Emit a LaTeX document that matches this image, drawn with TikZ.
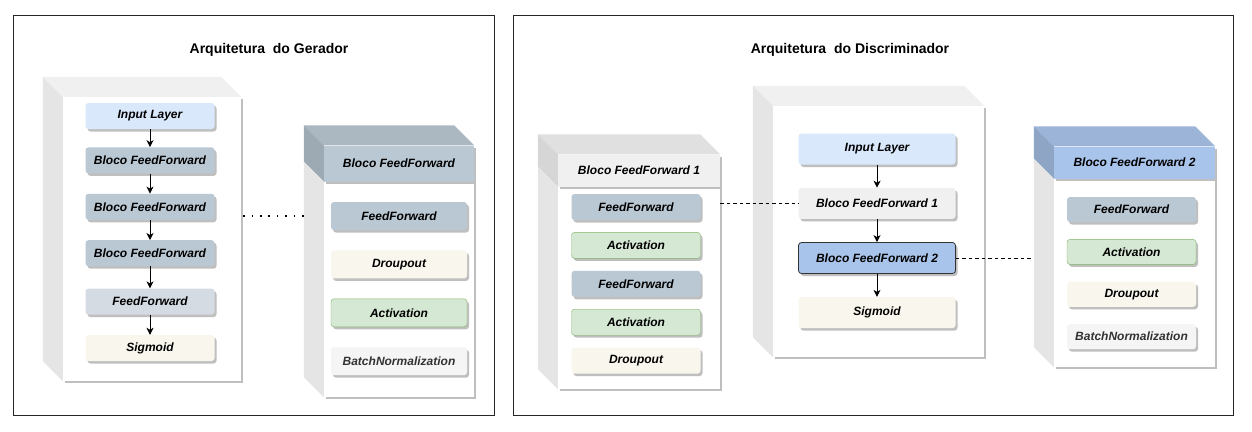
\documentclass[tikz,border=0pt]{standalone}
\usepackage{fontspec}
\setmainfont{Liberation Sans}
\usetikzlibrary{shapes, arrows, arrows.meta, positioning, shadows}

\definecolor{cinzaazul}{HTML}{BAC8D3}
\definecolor{cinzaff}{HTML}{D5DBE3}
\definecolor{azulclaro}{HTML}{DAE8FC}
\definecolor{azul}{HTML}{A9C4EB}
\definecolor{creme}{HTML}{F9F7ED}
\definecolor{verde}{HTML}{D5E8D4}
\definecolor{verdeborda}{HTML}{82B366}
\definecolor{cinzaclaro}{HTML}{F5F5F5}
\definecolor{textocinza}{HTML}{333333}

\begin{document}
\begin{tikzpicture}[x=1pt, y=1pt, node distance=20pt, >={Stealth[length=7pt, width=7pt, inset=2pt]}, auto]
        % 定义样式
        \tikzstyle{quadro} = [draw=black!85, line width=0.9pt, rectangle]
        \tikzstyle{titulo} = [font=\fontsize{14}{16}\selectfont\bfseries]
        \tikzstyle{frente} = [rectangle, inner sep=0pt, fill=white, drop shadow={shadow xshift=2pt, shadow yshift=-2pt, fill=black!25, opacity=1}]
        \tikzstyle{topo} = [fill=black!6]
        \tikzstyle{lado} = [fill=black!10]
        \tikzstyle{camada} = [rectangle, rounded corners=3pt, minimum height=26pt, minimum width=129pt, inner sep=0pt, font=\fontsize{12}{14}\selectfont\bfseries\itshape, drop shadow={shadow xshift=2pt, shadow yshift=-2.5pt, fill=black!25, opacity=1}]
        \tikzstyle{seta} = [->, line width=0.9pt]
        \tikzstyle{pontos} = [line width=1.6pt, dash pattern=on 1.6pt off 6.8pt]
        \tikzstyle{tracos} = [line width=0.7pt, dash pattern=on 3.5pt off 3pt]

        \useasboundingbox (0,0) rectangle (1252,-431);

        % 外框
        \node[quadro, minimum width=481pt, minimum height=400pt] (qGer) at (253.5,-215) {};
        \node[quadro, minimum width=720pt, minimum height=400pt] (qDis) at (873,-215) {};
        \node[titulo] (tGer) at (269,-50) {Arquitetura\ \ do Gerador};
        \node[titulo] (tDis) at (850,-50) {Arquitetura\ \ do Discriminador};

        % 生成器: 主体
        \node[frente, minimum width=178pt, minimum height=284pt] (gen) at (152,-239) {};
        \fill[topo] (gen.north west) -- ++(-20,20) -- ([xshift=-20pt, yshift=20pt]gen.north east) -- (gen.north east) -- cycle;
        \fill[lado] (gen.north west) -- ++(-20,20) -- ([xshift=-20pt, yshift=20pt]gen.south west) -- (gen.south west) -- cycle;

        \node[camada, fill=azulclaro] (gIn) at (150,-116) {Input Layer};
        \node[camada, fill=cinzaazul, below=18pt of gIn] (gB1) {Bloco FeedForward};
        \node[camada, fill=cinzaazul, below=of gB1] (gB2) {Bloco FeedForward};
        \node[camada, fill=cinzaazul, below=of gB2] (gB3) {Bloco FeedForward};
        \node[camada, fill=cinzaff, below=22pt of gB3] (gFF) {FeedForward};
        \node[camada, fill=creme, below=of gFF] (gSig) {Sigmoid};

        % 生成器: Bloco FeedForward
        \node[frente, minimum width=150pt, minimum height=215pt] (gBody) at (399,-289.5) {};
        \node[frente, fill=cinzaazul, minimum width=150pt, minimum height=36pt, font=\fontsize{12}{14}\selectfont\bfseries\itshape, above=0pt of gBody] (gHdr) {Bloco FeedForward};
        \fill[cinzaazul!92!black] (gHdr.north west) -- ++(-20,20) -- ([xshift=-20pt, yshift=20pt]gHdr.north east) -- (gHdr.north east) -- cycle;
        \fill[cinzaazul!85!black] (gHdr.north west) -- ++(-20,20) -- ([xshift=-20pt, yshift=20pt]gHdr.south west) -- (gHdr.south west) -- cycle;
        \fill[lado] (gBody.north west) -- ++(-20,20) -- ([xshift=-20pt, yshift=20pt]gBody.south west) -- (gBody.south west) -- cycle;

        \node[camada, fill=cinzaazul, minimum width=136pt, minimum height=28pt, below=20pt of gHdr] (gbFF) {FeedForward};
        \node[camada, fill=creme, minimum width=136pt, minimum height=28pt, below=of gbFF] (gbDrop) {Droupout};
        \node[camada, fill=verde, draw=verdeborda, minimum width=136pt, minimum height=28pt, below=of gbDrop] (gbAct) {Activation};
        \node[camada, fill=cinzaclaro, text=textocinza, minimum width=136pt, minimum height=28pt, below=of gbAct] (gbBN) {BatchNormalization};

        % 判别器: Bloco FeedForward 1
        \node[frente, minimum width=162pt, minimum height=202pt] (dBody) at (639,-288) {};
        \node[frente, fill=black!6, minimum width=162pt, minimum height=32pt, font=\fontsize{12}{14}\selectfont\bfseries\itshape, above=0pt of dBody] (dHdr) {Bloco FeedForward 1};
        \fill[black!12] (dHdr.north west) -- ++(-20,20) -- ([xshift=-20pt, yshift=20pt]dHdr.north east) -- (dHdr.north east) -- cycle;
        \fill[black!16] (dHdr.north west) -- ++(-20,20) -- ([xshift=-20pt, yshift=20pt]dHdr.south west) -- (dHdr.south west) -- cycle;
        \fill[lado] (dBody.north west) -- ++(-20,20) -- ([xshift=-20pt, yshift=20pt]dBody.south west) -- (dBody.south west) -- cycle;

        \node[camada, fill=cinzaazul, below=7pt of dHdr, xshift=-3pt] (dFF1) {FeedForward};
        \node[camada, fill=verde, draw=verdeborda, below=12pt of dFF1] (dAct1) {Activation};
        \node[camada, fill=cinzaazul, below=12pt of dAct1] (dFF2) {FeedForward};
        \node[camada, fill=verde, draw=verdeborda, below=12pt of dFF2] (dAct2) {Activation};
        \node[camada, fill=creme, below=12pt of dAct2] (dDrop) {Droupout};

        % 判别器: 主体
        \node[frente, minimum width=211pt, minimum height=251pt] (dis) at (878.5,-231.5) {};
        \fill[topo] (dis.north west) -- ++(-20,20) -- ([xshift=-20pt, yshift=20pt]dis.north east) -- (dis.north east) -- cycle;
        \fill[lado] (dis.north west) -- ++(-20,20) -- ([xshift=-20pt, yshift=20pt]dis.south west) -- (dis.south west) -- cycle;

        \node[camada, fill=azulclaro, minimum width=157pt, minimum height=31pt] (mIn) at (877,-149) {Input Layer};
        \node[camada, fill=black!6, minimum width=157pt, minimum height=31pt, below=23pt of mIn] (mB1) {Bloco FeedForward 1};
        \node[camada, fill=azul, draw=black!80, line width=0.8pt, minimum width=157pt, minimum height=31pt, below=23pt of mB1] (mB2) {Bloco FeedForward 2};
        \node[camada, fill=creme, minimum width=157pt, minimum height=31pt, below=23pt of mB2] (mSig) {Sigmoid};

        % 判别器: Bloco FeedForward 2
        \node[frente, minimum width=161pt, minimum height=188pt] (rBody) at (1134.5,-273) {};
        \node[frente, fill=azul, minimum width=161pt, minimum height=32pt, font=\fontsize{12}{14}\selectfont\bfseries\itshape, above=0pt of rBody] (rHdr) {Bloco FeedForward 2};
        \fill[azul!92!black] (rHdr.north west) -- ++(-20,20) -- ([xshift=-20pt, yshift=20pt]rHdr.north east) -- (rHdr.north east) -- cycle;
        \fill[azul!84!black] (rHdr.north west) -- ++(-20,20) -- ([xshift=-20pt, yshift=20pt]rHdr.south west) -- (rHdr.south west) -- cycle;
        \fill[lado] (rBody.north west) -- ++(-20,20) -- ([xshift=-20pt, yshift=20pt]rBody.south west) -- (rBody.south west) -- cycle;

        \node[camada, fill=cinzaazul, minimum height=25pt, below=18pt of rHdr, xshift=-3pt] (rFF) {FeedForward};
        \node[camada, fill=verde, draw=verdeborda, minimum height=25pt, below=17pt of rFF] (rAct) {Activation};
        \node[camada, fill=creme, minimum height=25pt, below=17pt of rAct] (rDrop) {Droupout};
        \node[camada, fill=cinzaclaro, text=textocinza, minimum height=25pt, below=17pt of rDrop] (rBN) {BatchNormalization};

        % 连线
        \draw[seta] (gIn) -- (gB1);
        \draw[seta] (gB1) -- (gB2);
        \draw[seta] (gB2) -- (gB3);
        \draw[seta] (gB3) -- (gFF);
        \draw[seta] (gFF) -- (gSig);
        \draw[seta] (mIn) -- (mB1);
        \draw[seta] (mB1) -- (mB2);
        \draw[seta] (mB2) -- (mSig);
        \draw[pontos] (gbFF -| gen.east) ++(2,0) -- ([xshift=-20pt]gbFF -| gBody.west);
        \draw[tracos] (mB1 -| dBody.east) -- (mB1.west);
        \draw[tracos] (mB2.east) -- ([xshift=-20pt]mB2 -| rBody.west);
    \end{tikzpicture}
\end{document}
